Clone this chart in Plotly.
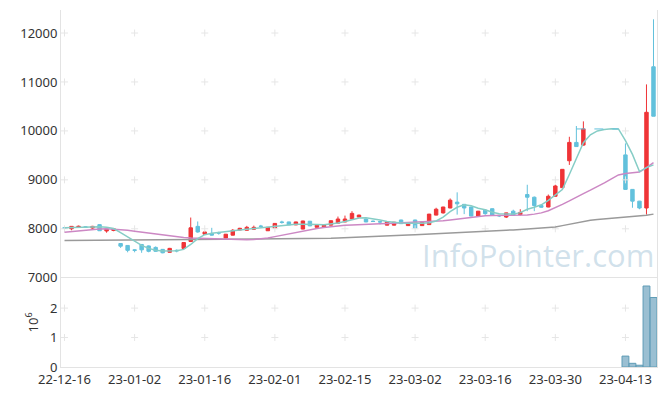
import plotly.graph_objects as go

dates = [
    "22-12-16", "22-12-19", "22-12-20", "22-12-21", "22-12-22", "22-12-23", "22-12-26", "22-12-27", "22-12-28", "22-12-29",
    "23-01-02", "23-01-03", "23-01-04", "23-01-05", "23-01-06", "23-01-09", "23-01-10", "23-01-11", "23-01-12", "23-01-13",
    "23-01-16", "23-01-17", "23-01-18", "23-01-19", "23-01-20", "23-01-25", "23-01-26", "23-01-27", "23-01-30", "23-01-31",
    "23-02-01", "23-02-02", "23-02-03", "23-02-06", "23-02-07", "23-02-08", "23-02-09", "23-02-10", "23-02-13", "23-02-14",
    "23-02-15", "23-02-16", "23-02-17", "23-02-20", "23-02-21", "23-02-22", "23-02-23", "23-02-24", "23-02-27", "23-02-28",
    "23-03-02", "23-03-03", "23-03-06", "23-03-07", "23-03-08", "23-03-09", "23-03-10", "23-03-13", "23-03-14", "23-03-15",
    "23-03-16", "23-03-17", "23-03-20", "23-03-21", "23-03-22", "23-03-23", "23-03-24", "23-03-27", "23-03-28", "23-03-29",
    "23-03-30", "23-03-31", "23-04-03", "23-04-04", "23-04-05", "23-04-06", "23-04-07", "23-04-10", "23-04-11", "23-04-12",
    "23-04-13", "23-04-14", "23-04-17", "23-04-18", "23-04-19",
]

open_ = [8020, 8000, 8040, 8040, 8015, 8085, 7955, 7965, 7700, 7660,
         7570, 7680, 7650, 7620, 7580, 7520, 7560, 7600, 7740, 8050,
         7890, 7905, 7920, 7810, 7870, 7975, 7970, 7990, 8055, 7960,
         8015, 8140, 8140, 8080, 7995, 8155, 8030, 8040, 8075, 8115,
         8140, 8200, 8240, 8200, 8155, 8145, 8075, 8075, 8180, 8065,
         8180, 8065, 8085, 8280, 8325, 8425, 8545, 8500, 8445, 8260,
         8380, 8410, 8275, 8240, 8360, 8290, 8700, 8645, 8475, 8445,
         8665, 8840, 9390, 9765, 9710, None, None, None, None, None,
         9510, 8805, 8565, 8425, 11310]
high = [8040, 8055, 8065, 8050, 8060, 8090, 8000, 8010, 7705, 7665,
        7580, 7690, 7660, 7640, 7585, 7610, 7580, 7720, 8230, 8150,
        7960, 8020, 7940, 7895, 7995, 8020, 8060, 8065, 8080, 8035,
        8115, 8165, 8145, 8145, 8165, 8160, 8080, 8080, 8170, 8250,
        8270, 8360, 8290, 8205, 8170, 8150, 8145, 8140, 8185, 8130,
        8185, 8145, 8305, 8430, 8450, 8620, 8745, 8505, 8450, 8365,
        8400, 8415, 8285, 8330, 8390, 8400, 8900, 8660, 8480, 8700,
        8900, 9220, 9880, 10100, 10195, None, None, None, None, None,
        9745, 8810, 8570, 10950, 12280]
low = [7990, 7970, 8030, 8020, 8000, 7960, 7920, 7950, 7610, 7520,
       7520, 7510, 7520, 7530, 7500, 7515, 7520, 7595, 7730, 7920,
       7880, 7860, 7880, 7800, 7865, 7970, 7965, 7985, 8030, 7955,
       8010, 8105, 8075, 8075, 7990, 8055, 8025, 8030, 8070, 8110,
       8135, 8195, 8235, 8135, 8140, 8090, 8070, 8070, 8100, 8060,
       8010, 8060, 8080, 8275, 8310, 8420, 8290, 8300, 8255, 8255,
       8285, 8270, 8240, 8220, 8270, 8270, 8360, 8360, 8430, 8440,
       8660, 8835, 9305, 9680, 9700, None, None, None, None, None,
       8800, 8430, 8400, 8290, 10300]
close = [8010, 8050, 8050, 8030, 8050, 7960, 7995, 8000, 7645, 7560,
         7560, 7570, 7540, 7540, 7510, 7600, 7550, 7720, 8020, 7935,
         7935, 7870, 7912, 7890, 7970, 8010, 8030, 8030, 8050, 8030,
         8110, 8130, 8080, 8140, 8160, 8060, 8075, 8070, 8165, 8200,
         8200, 8315, 8280, 8140, 8150, 8140, 8140, 8135, 8105, 8120,
         8015, 8140, 8300, 8400, 8445, 8585, 8510, 8425, 8260, 8360,
         8310, 8275, 8265, 8325, 8275, 8335, 8645, 8475, 8440, 8665,
         8875, 9215, 9765, 9680, 10040, None, None, None, None, None,
         8805, 8565, 8425, 10380, 10300]

ma5 = [8020, 8025, 8030, 8030, 8035, 8040, 8030, 8005, 7920, 7830,
       7740, 7660, 7600, 7560, 7545, 7545, 7550, 7580, 7680, 7800,
       7880, 7910, 7930, 7945, 7960, 7975, 7990, 8005, 8020, 8035,
       8060, 8080, 8090, 8095, 8095, 8100, 8090, 8085, 8095, 8120,
       8150, 8190, 8220, 8225, 8210, 8180, 8150, 8130, 8120, 8115,
       8110, 8115, 8125, 8160, 8240, 8350, 8440, 8490, 8470, 8420,
       8390, 8340, 8310, 8300, 8300, 8330, 8400, 8440, 8490, 8580,
       8690, 8800, 9110, 9450, 9760, 9920, 10000, 10030, 10045, 10040,
       9800, 9520, 9170, 9250, 9305]
ma20 = [7930, 7945, 7960, 7975, 7985, 7995, 8000, 7995, 7985, 7970,
        7950, 7930, 7910, 7890, 7870, 7850, 7835, 7820, 7810, 7805,
        7800, 7795, 7790, 7785, 7780, 7778, 7778, 7782, 7790, 7810,
        7840, 7870, 7900, 7930, 7960, 7985, 8005, 8025, 8045, 8060,
        8070, 8080, 8090, 8095, 8100, 8105, 8110, 8115, 8120, 8125,
        8130, 8135, 8140, 8150, 8165, 8180, 8200, 8220, 8235, 8250,
        8265, 8270, 8270, 8270, 8270, 8275, 8280, 8300, 8325, 8370,
        8430, 8500, 8570, 8650, 8720, 8790, 8860, 8940, 9020, 9100,
        9130, 9145, 9160, 9250, 9350]
ma60 = [7760, 7761, 7762, 7763, 7764, 7765, 7766, 7767, 7768, 7769,
        7770, 7770, 7771, 7771, 7772, 7772, 7773, 7773, 7774, 7774,
        7775, 7776, 7776, 7777, 7777, 7778, 7779, 7780, 7781, 7783,
        7785, 7787, 7789, 7791, 7793, 7795, 7798, 7801, 7805, 7810,
        7815, 7821, 7827, 7833, 7839, 7845, 7851, 7857, 7865, 7873,
        7881, 7889, 7897, 7905, 7913, 7921, 7929, 7937, 7945, 7953,
        7962, 7965, 7968, 7972, 7977, 7985, 7993, 8002, 8012, 8022,
        8035, 8065, 8095, 8125, 8155, 8175, 8190, 8200, 8212, 8222,
        8232, 8242, 8255, 8275, 8300]

halt_dates = ["23-04-04", "23-04-05", "23-04-06", "23-04-07", "23-04-10", "23-04-11", "23-04-12"]
halt_price = [10040, 10040, 10040, 10040, 10040, 10040, 10040]

# volume in millions (None: too small to see)
volume_m = [
    None, None, None, None, None, None, None, None, None, None,
    None, None, None, None, None, None, None, None, None, None,
    None, None, None, None, None, None, None, None, None, None,
    None, None, None, None, None, None, None, None, None, None,
    None, None, None, None, None, None, None, None, None, None,
    None, None, None, None, None, None, None, None, None, None,
    None, None, None, None, None, None, None, None, None, None,
    None, None, None, None, None, None, None, None, None, None,
    0.37, 0.125, 0.06, 2.75, 2.36]

tick_labels = ["22-12-16", "23-01-02", "23-01-16", "23-02-01", "23-02-15",
               "23-03-02", "23-03-16", "23-03-30", "23-04-13"]
price_ticks = [7000, 8000, 9000, 10000, 11000, 12000]
vol_ticks = [0, 1, 2]

RED = "#ef3437"
BLUE = "#62c1dc"
FONT = "Noto Sans"
TXT = "#333333"

fig = go.Figure()

# faint grid crosses at tick intersections
cx, cy = [], []
for t in tick_labels:
    for p in price_ticks[1:]:
        cx.append(t)
        cy.append(p)
fig.add_trace(go.Scatter(x=cx, y=cy, mode="markers", yaxis="y",
                         marker=dict(symbol="cross-thin", size=5,
                                     line=dict(color="#e6e6e6", width=1)),
                         hoverinfo="skip", showlegend=False))
vx, vy = [], []
for t in tick_labels:
    for v in vol_ticks[1:]:
        vx.append(t)
        vy.append(v)
fig.add_trace(go.Scatter(x=vx, y=vy, mode="markers", yaxis="y2",
                         marker=dict(symbol="cross-thin", size=5,
                                     line=dict(color="#e6e6e6", width=1)),
                         hoverinfo="skip", showlegend=False))

fig.add_trace(go.Scatter(x=dates, y=ma60, mode="lines", yaxis="y",
                         line=dict(color="#9a9a9a", width=1.5), showlegend=False))
fig.add_trace(go.Scatter(x=dates, y=ma20, mode="lines", yaxis="y",
                         line=dict(color="#cc88c4", width=1.5), showlegend=False))
fig.add_trace(go.Scatter(x=dates, y=ma5, mode="lines", yaxis="y",
                         line=dict(color="#86cdc6", width=1.5), showlegend=False))
fig.add_trace(go.Scatter(x=halt_dates, y=halt_price, mode="lines", yaxis="y",
                         line=dict(color="#62c1dc", width=1, dash="dash"), showlegend=False))

fig.add_trace(go.Candlestick(
    x=dates, open=open_, high=high, low=low, close=close, yaxis="y",
    increasing=dict(line=dict(color=RED, width=1), fillcolor=RED),
    decreasing=dict(line=dict(color=BLUE, width=1), fillcolor=BLUE),
    whiskerwidth=0, showlegend=False))

fig.add_trace(go.Bar(x=dates, y=volume_m, yaxis="y2",
                     marker=dict(color="rgba(120,170,195,0.75)",
                                 line=dict(color="#5f9cb6", width=1)),
                     showlegend=False))

fig.add_annotation(text="InfoPointer.com", xref="paper", yref="paper",
                   x=0.80, y=0.315, xanchor="center", yanchor="middle", showarrow=False,
                   font=dict(family="Open Sans", size=31, color="rgba(170,200,218,0.55)"))

axis_line = "#e3e3e3"
fig.update_layout(
    width=665, height=396,
    margin=dict(l=61, r=8, t=10, b=29, autoexpand=False),
    plot_bgcolor="white", paper_bgcolor="white",
    font=dict(family=FONT, size=13, color=TXT),
    showlegend=False,
    bargap=0.02,
    xaxis=dict(type="category", categoryorder="array", categoryarray=dates,
               range=[-0.5, 84.5], tickmode="array", tickvals=tick_labels, ticktext=tick_labels,
               showgrid=False, zeroline=False, showline=True, mirror=True, linecolor=axis_line,
               ticks="", rangeslider=dict(visible=False), anchor="y2", automargin=False,
               tickfont=dict(family=FONT, size=13, color=TXT)),
    yaxis=dict(domain=[0.25, 1], range=[7000, 12470], tickvals=price_ticks, tickformat="d",
               showgrid=False, zeroline=False, showline=True, mirror=True, linecolor=axis_line,
               ticks="", automargin=False, anchor="x",
               tickfont=dict(family=FONT, size=13, color=TXT)),
    yaxis2=dict(domain=[0, 0.25], range=[0, 3.03], tickvals=vol_ticks, tickformat="d",
                showgrid=False, zeroline=False, showline=True, mirror=True, linecolor=axis_line,
                ticks="", automargin=False, anchor="x",
                title=dict(text="10<sup>6</sup>", standoff=8,
                           font=dict(family=FONT, size=13, color=TXT)),
                tickfont=dict(family=FONT, size=13, color=TXT)),
)

fig.write_html("out.html", config={"displayModeBar": False},
               post_script="document.body.style.margin='0';")
